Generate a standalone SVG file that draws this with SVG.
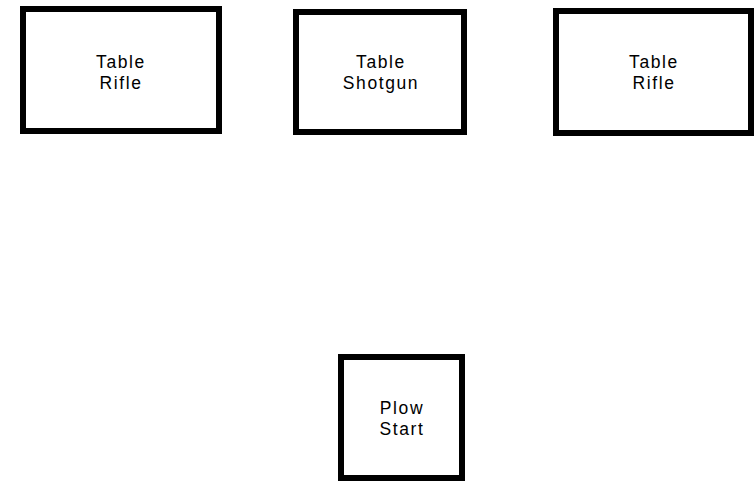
<svg xmlns="http://www.w3.org/2000/svg" width="755" height="481" viewBox="0 0 755 481">
<style>
.box{fill:#fff;stroke:#000;stroke-width:6}
.lbl{font-family:"Liberation Sans",Arial,sans-serif;font-size:17.5px;fill:#000;text-anchor:middle;letter-spacing:1.6px}
</style>
<rect width="755" height="481" fill="#fff"/>
<g id="node-table-rifle-1">
<rect class="box" x="23" y="9" width="196" height="122"/>
<text class="lbl" x="121" y="68">Table</text>
<text class="lbl" x="121" y="89">Rifle</text>
</g>
<g id="node-table-shotgun">
<rect class="box" x="296" y="12" width="168" height="120"/>
<text class="lbl" x="381" y="68">Table</text>
<text class="lbl" x="381" y="89">Shotgun</text>
</g>
<g id="node-table-rifle-2">
<rect class="box" x="556" y="11" width="195" height="122"/>
<text class="lbl" x="654" y="68">Table</text>
<text class="lbl" x="654" y="89">Rifle</text>
</g>
<g id="node-plow-start">
<rect class="box" x="341" y="357" width="121" height="121"/>
<text class="lbl" x="402" y="414">Plow</text>
<text class="lbl" x="402" y="435">Start</text>
</g>
<g id="connectors"></g>
</svg>
